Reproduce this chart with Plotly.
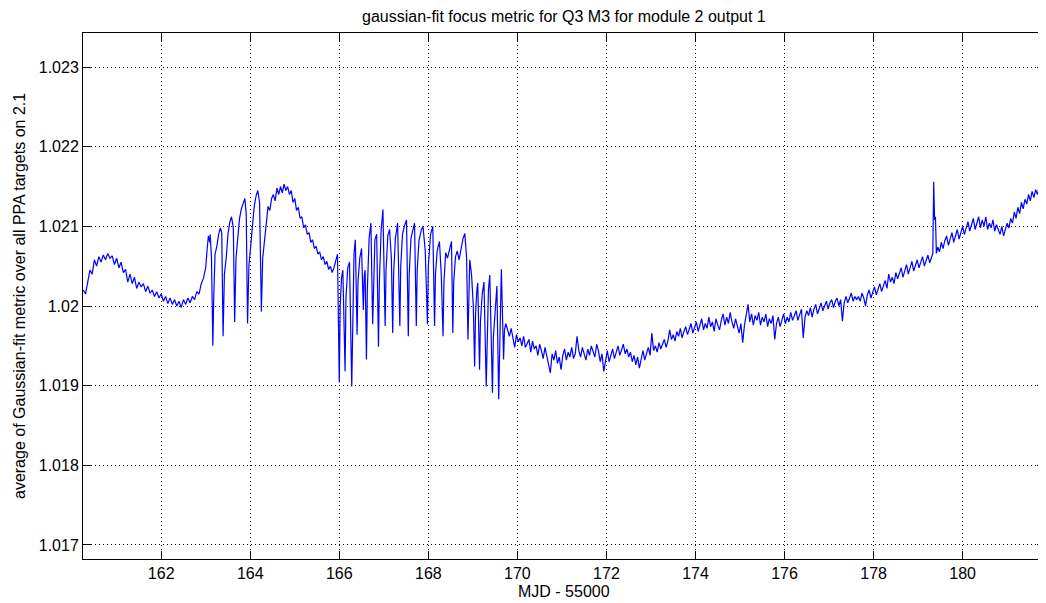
import plotly.graph_objects as go

# ---------------- data (MJD - 55000, metric) ----------------
mjd_a = [160.25, 160.30, 160.35, 160.40, 160.45, 160.50, 160.55, 160.60, 160.65, 160.70,
         160.75, 160.80, 160.85, 160.90, 160.95, 161.00, 161.05, 161.10, 161.15, 161.20,
         161.25, 161.30, 161.35, 161.40, 161.45, 161.50, 161.55, 161.60, 161.65, 161.70,
         161.75, 161.80, 161.85, 161.90, 161.95, 162.00, 162.05, 162.10, 162.15, 162.20,
         162.25, 162.30, 162.35, 162.40, 162.45, 162.50, 162.55, 162.60, 162.65, 162.70,
         162.75, 162.80, 162.85, 162.90, 162.95, 163.00, 163.03, 163.06, 163.09]
metric_a = [1.02020, 1.02015, 1.02030, 1.02045, 1.02040, 1.02058, 1.02050, 1.02062, 1.02055, 1.02064,
            1.02058, 1.02066, 1.02060, 1.02063, 1.02052, 1.02060, 1.02048, 1.02055, 1.02042, 1.02046,
            1.02030, 1.02040, 1.02028, 1.02036, 1.02022, 1.02030, 1.02024, 1.02028, 1.02018, 1.02025,
            1.02016, 1.02020, 1.02012, 1.02018, 1.02010, 1.02015, 1.02006, 1.02012, 1.02003, 1.02010,
            1.02002, 1.02008, 1.02000, 1.02006, 1.01998, 1.02008, 1.02002, 1.02010, 1.02004, 1.02012,
            1.02008, 1.02018, 1.02015, 1.02028, 1.02035, 1.02048, 1.02070, 1.02088, 1.02080]

mjd_b = [163.10, 163.13, 163.16, 163.18, 163.21, 163.25, 163.29, 163.33, 163.36, 163.39,
         163.42, 163.46, 163.50, 163.54, 163.58, 163.62, 163.65, 163.68, 163.72, 163.76,
         163.80, 163.84, 163.88, 163.91, 163.94, 163.97, 164.01, 164.05, 164.09, 164.13,
         164.17, 164.21, 164.25, 164.28, 164.32, 164.36, 164.40, 164.44, 164.48, 164.52,
         164.56, 164.60, 164.64, 164.68, 164.72, 164.76, 164.80, 164.84, 164.88, 164.92,
         164.96, 165.00, 165.04, 165.08, 165.12, 165.16, 165.20, 165.24, 165.28, 165.32,
         165.36, 165.40, 165.44, 165.48, 165.52, 165.56, 165.60, 165.64, 165.68, 165.72,
         165.76, 165.80, 165.84, 165.88, 165.92, 165.96]
metric_b = [1.02090, 1.02060, 1.01950, 1.02010, 1.02065, 1.02075, 1.02090, 1.02098, 1.02092, 1.01962,
            1.02040, 1.02060, 1.02090, 1.02105, 1.02112, 1.02098, 1.01980, 1.02060, 1.02085, 1.02110,
            1.02122, 1.02130, 1.02135, 1.02115, 1.01978, 1.02050, 1.02075, 1.02110, 1.02125, 1.02138,
            1.02145, 1.02130, 1.01993, 1.02060, 1.02085, 1.02110, 1.02125, 1.02120, 1.02135, 1.02140,
            1.02132, 1.02148, 1.02140, 1.02150, 1.02142, 1.02153, 1.02145, 1.02150, 1.02140, 1.02145,
            1.02130, 1.02135, 1.02120, 1.02124, 1.02110, 1.02112, 1.02098, 1.02102, 1.02090, 1.02092,
            1.02080, 1.02083, 1.02072, 1.02075, 1.02065, 1.02068, 1.02058, 1.02062, 1.02052, 1.02056,
            1.02046, 1.02050, 1.02042, 1.02048, 1.02055, 1.02065]

mjd_c = [166.00, 166.02, 166.05, 166.08, 166.13, 166.15, 166.19, 166.23, 166.28, 166.30,
         166.33, 166.36, 166.40, 166.42, 166.46, 166.50, 166.54, 166.56, 166.58, 166.61,
         166.63, 166.67, 166.71, 166.75, 166.77, 166.80, 166.84, 166.88, 166.90, 166.94,
         166.98, 167.03, 167.05, 167.09, 167.13, 167.17, 167.20, 167.22, 167.26, 167.31,
         167.36, 167.38, 167.42, 167.46, 167.51, 167.55, 167.57, 167.61, 167.65, 167.69,
         167.73, 167.75, 167.79, 167.84, 167.88, 167.93, 167.98, 168.00, 168.05, 168.10,
         168.14, 168.16, 168.20, 168.25, 168.29, 168.33, 168.35, 168.39, 168.43, 168.47,
         168.52, 168.55, 168.57, 168.61, 168.65, 168.69, 168.73, 168.78, 168.82, 168.86,
         168.89, 168.91, 168.93, 168.97, 169.01, 169.04, 169.06, 169.09, 169.11, 169.15,
         169.17, 169.21, 169.25, 169.30, 169.32, 169.35, 169.38, 169.44, 169.46, 169.50,
         169.54, 169.58, 169.60, 169.62, 169.64, 169.69, 169.71, 169.74]
metric_c = [1.01904, 1.02000, 1.02035, 1.02045, 1.01918, 1.02010, 1.02048, 1.02055, 1.01899, 1.01995,
            1.02065, 1.02083, 1.01964, 1.02030, 1.02060, 1.02072, 1.01995, 1.02037, 1.02045, 1.01933,
            1.02020, 1.02085, 1.02104, 1.01977, 1.02040, 1.02083, 1.02090, 1.01949, 1.02030, 1.02095,
            1.02121, 1.01975, 1.02045, 1.02088, 1.02096, 1.02060, 1.01966, 1.02040, 1.02085, 1.02104,
            1.01975, 1.02050, 1.02090, 1.02100, 1.02108, 1.01962, 1.02040, 1.02085, 1.02095, 1.02104,
            1.01975, 1.02045, 1.02082, 1.02095, 1.02100, 1.02070, 1.01977, 1.02050, 1.02090, 1.02100,
            1.01975, 1.02040, 1.02070, 1.02081, 1.02040, 1.01962, 1.02030, 1.02067, 1.02060, 1.02070,
            1.02081, 1.01966, 1.02030, 1.02062, 1.02069, 1.02058, 1.02070, 1.02085, 1.02091, 1.02060,
            1.01958, 1.02020, 1.02058, 1.02040, 1.02000, 1.01924, 1.01990, 1.02020, 1.02029, 1.01920,
            1.01980, 1.02015, 1.02030, 1.01899, 1.01970, 1.02020, 1.02039, 1.01891, 1.01960, 1.02000,
            1.02025, 1.01883, 1.01950, 1.02020, 1.02046, 1.01933, 1.01970, 1.01978]

mjd_d = [169.78, 169.82, 169.86, 169.90, 169.94, 169.98, 170.02, 170.06, 170.10, 170.14,
         170.18, 170.22, 170.26, 170.30, 170.34, 170.38, 170.42, 170.46, 170.50, 170.54,
         170.58, 170.62, 170.66, 170.70, 170.74, 170.78, 170.82, 170.86, 170.90, 170.94,
         170.98, 171.02, 171.06, 171.10, 171.14, 171.18, 171.22, 171.26, 171.30, 171.34,
         171.38, 171.42, 171.46, 171.50, 171.54, 171.58, 171.62, 171.66, 171.70, 171.74,
         171.78, 171.82, 171.86, 171.90, 171.94, 171.98, 172.02, 172.06, 172.10, 172.14,
         172.18, 172.22, 172.26, 172.30, 172.34, 172.38, 172.42, 172.46, 172.50, 172.54,
         172.58, 172.62, 172.66, 172.70, 172.74, 172.78, 172.82, 172.86, 172.90, 172.94,
         172.98, 173.02, 173.06, 173.10, 173.14, 173.18, 173.22, 173.26, 173.30, 173.34,
         173.38, 173.42, 173.46, 173.50, 173.54, 173.58, 173.62, 173.66, 173.70, 173.74,
         173.78, 173.82, 173.86, 173.90, 173.94, 173.98, 174.02, 174.06, 174.10, 174.14,
         174.18, 174.22, 174.26, 174.30, 174.34, 174.38, 174.42, 174.46, 174.50, 174.54,
         174.58, 174.62, 174.66, 174.70, 174.74, 174.78, 174.82, 174.86, 174.90, 174.94,
         174.98, 175.02, 175.06, 175.10, 175.14, 175.18, 175.22, 175.26, 175.30, 175.34,
         175.38, 175.42, 175.46, 175.50, 175.54, 175.58, 175.62, 175.66, 175.70, 175.74,
         175.78, 175.82, 175.86, 175.90, 175.94, 175.98, 176.02, 176.06, 176.10, 176.14,
         176.18, 176.22, 176.26, 176.30, 176.34, 176.38, 176.42, 176.46, 176.50, 176.54,
         176.58, 176.62, 176.66, 176.70, 176.74, 176.78, 176.82, 176.86, 176.90, 176.94,
         176.98, 177.02, 177.06, 177.10, 177.14, 177.18, 177.22, 177.26, 177.30, 177.34,
         177.38, 177.42, 177.46, 177.50, 177.54, 177.58, 177.62]
metric_d = [1.01970, 1.01962, 1.01972, 1.01958, 1.01948, 1.01964, 1.01955, 1.01960, 1.01950, 1.01962,
            1.01948, 1.01953, 1.01958, 1.01942, 1.01956, 1.01946, 1.01950, 1.01938, 1.01952, 1.01944,
            1.01934, 1.01948, 1.01938, 1.01930, 1.01916, 1.01940, 1.01932, 1.01944, 1.01928, 1.01936,
            1.01920, 1.01938, 1.01946, 1.01932, 1.01942, 1.01936, 1.01948, 1.01934, 1.01940, 1.01962,
            1.01944, 1.01936, 1.01948, 1.01940, 1.01932, 1.01946, 1.01938, 1.01950, 1.01942, 1.01936,
            1.01952, 1.01944, 1.01930, 1.01940, 1.01918, 1.01934, 1.01944, 1.01930, 1.01940, 1.01946,
            1.01934, 1.01942, 1.01950, 1.01938, 1.01944, 1.01952, 1.01940, 1.01946, 1.01936, 1.01942,
            1.01930, 1.01938, 1.01926, 1.01936, 1.01922, 1.01934, 1.01944, 1.01932, 1.01942, 1.01948,
            1.01938, 1.01966, 1.01944, 1.01950, 1.01942, 1.01954, 1.01946, 1.01952, 1.01958, 1.01948,
            1.01956, 1.01970, 1.01958, 1.01964, 1.01956, 1.01968, 1.01962, 1.01972, 1.01960, 1.01968,
            1.01974, 1.01964, 1.01972, 1.01978, 1.01966, 1.01974, 1.01980, 1.01968, 1.01976, 1.01984,
            1.01970, 1.01978, 1.01972, 1.01986, 1.01974, 1.01980, 1.01968, 1.01984, 1.01976, 1.01970,
            1.01982, 1.01990, 1.01976, 1.01986, 1.01978, 1.01992, 1.01980, 1.01972, 1.01984, 1.01976,
            1.01966, 1.01978, 1.01954, 1.01976, 1.01988, 1.02002, 1.01980, 1.01990, 1.01976, 1.01988,
            1.01982, 1.01992, 1.01976, 1.01986, 1.01980, 1.01990, 1.01974, 1.01984, 1.01978, 1.01988,
            1.01958, 1.01978, 1.01986, 1.01974, 1.01982, 1.01990, 1.01978, 1.01986, 1.01980, 1.01992,
            1.01982, 1.01988, 1.01994, 1.01982, 1.01990, 1.01996, 1.01960, 1.01986, 1.01994, 1.01988,
            1.01998, 1.01986, 1.01996, 1.02002, 1.01990, 1.01998, 1.02004, 1.01994, 1.02000, 1.02006,
            1.01996, 1.02004, 1.02008, 1.01998, 1.02006, 1.02010, 1.02000, 1.02008, 1.01981, 1.02004,
            1.02012, 1.02004, 1.02010, 1.02016, 1.02006, 1.02012, 1.02008]

mjd_e = [177.66, 177.70, 177.74, 177.78, 177.82, 177.86, 177.90, 177.94, 177.98, 178.02,
         178.06, 178.10, 178.14, 178.18, 178.22, 178.26, 178.30, 178.34, 178.38, 178.42,
         178.46, 178.50, 178.54, 178.58, 178.62, 178.66, 178.70, 178.74, 178.78, 178.82,
         178.86, 178.90, 178.94, 178.98, 179.02, 179.06, 179.10, 179.14, 179.18, 179.22,
         179.26, 179.30, 179.33, 179.35, 179.37, 179.39, 179.41, 179.44, 179.48, 179.52,
         179.56, 179.60, 179.64, 179.68, 179.72, 179.76, 179.80, 179.84, 179.88, 179.92,
         179.96, 180.00, 180.04, 180.08, 180.12, 180.16, 180.20, 180.24, 180.28, 180.32,
         180.36, 180.40, 180.44, 180.48, 180.52, 180.56, 180.60, 180.64, 180.68, 180.72,
         180.76, 180.80, 180.84, 180.88, 180.92, 180.96, 181.00, 181.04, 181.08, 181.12,
         181.16, 181.20, 181.24, 181.28, 181.32, 181.36, 181.40, 181.44, 181.48, 181.52,
         181.56, 181.60, 181.64, 181.68, 181.72, 181.76, 181.80, 181.84, 181.86]
metric_e = [1.02012, 1.02006, 1.02016, 1.02010, 1.02000, 1.02014, 1.02020, 1.02010, 1.02018, 1.02024,
            1.02014, 1.02022, 1.02028, 1.02018, 1.02026, 1.02032, 1.02022, 1.02040, 1.02030, 1.02036,
            1.02028, 1.02042, 1.02034, 1.02040, 1.02048, 1.02036, 1.02044, 1.02052, 1.02040, 1.02050,
            1.02056, 1.02044, 1.02052, 1.02058, 1.02048, 1.02056, 1.02062, 1.02050, 1.02058, 1.02064,
            1.02054, 1.02062, 1.02066, 1.02156, 1.02108, 1.02112, 1.02066, 1.02074, 1.02068, 1.02080,
            1.02072, 1.02082, 1.02088, 1.02076, 1.02086, 1.02092, 1.02080, 1.02090, 1.02096, 1.02084,
            1.02094, 1.02100, 1.02090, 1.02098, 1.02106, 1.02094, 1.02102, 1.02110, 1.02096, 1.02106,
            1.02112, 1.02098, 1.02108, 1.02100, 1.02112, 1.02096, 1.02104, 1.02098, 1.02108, 1.02094,
            1.02102, 1.02096, 1.02090, 1.02100, 1.02088, 1.02096, 1.02104, 1.02098, 1.02110, 1.02104,
            1.02118, 1.02110, 1.02124, 1.02116, 1.02130, 1.02122, 1.02134, 1.02128, 1.02140, 1.02132,
            1.02144, 1.02136, 1.02146, 1.02140, 1.02150, 1.02144, 1.02154, 1.02148, 1.02152]

x_ticks = [162, 164, 166, 168, 170, 172, 174, 176, 178, 180]
y_ticks = [1.017, 1.018, 1.019, 1.020, 1.021, 1.022, 1.023]
y_tick_text = ["1.017", "1.018", "1.019", "1.02", "1.021", "1.022", "1.023"]

title_text = "gaussian-fit focus metric for Q3 M3 for module 2 output 1"
x_title = "MJD - 55000"
y_title = "average of Gaussian-fit metric over all PPA targets on 2.1"

mjd = mjd_a + mjd_b + mjd_c + mjd_d + mjd_e
metric = metric_a + metric_b + metric_c + metric_d + metric_e

FONT = "Liberation Sans, Arial, sans-serif"
FS = 16

fig = go.Figure()
fig.add_trace(go.Scatter(x=mjd, y=metric, mode="lines",
                         line=dict(color="#0000ff", width=1.2), showlegend=False,
                         hoverinfo="skip"))

axis_common = dict(
    showline=True, linecolor="black", linewidth=1, mirror="ticks",
    ticks="inside", ticklen=8, tickcolor="black", tickwidth=1,
    showgrid=True, gridcolor="black", gridwidth=1, griddash="1px,3px",
    zeroline=False, automargin=False,
    tickfont=dict(family=FONT, size=FS, color="black"),
)

fig.update_xaxes(range=[160.244, 181.85], tickvals=x_ticks,
                 ticktext=[str(v) for v in x_ticks], ticklabelstandoff=0,
                 **axis_common)
fig.update_yaxes(range=[1.016824, 1.023427], tickvals=y_ticks,
                 ticktext=y_tick_text, **axis_common)

# the page body adds an 8px offset; the figure is sized so it fits the window
fig.update_layout(
    width=1038, height=595, autosize=False,
    margin=dict(l=75, r=1, t=25, b=44, pad=0),
    paper_bgcolor="white", plot_bgcolor="white",
    font=dict(family=FONT, size=FS, color="black"),
    annotations=[
        dict(text=title_text, xref="paper", yref="paper", x=0.5, y=1,
             yshift=17, xanchor="center", yanchor="middle", showarrow=False,
             font=dict(family=FONT, size=FS, color="black")),
        dict(text=x_title, xref="paper", yref="paper", x=0.5, y=0,
             yshift=-32, xanchor="center", yanchor="middle", showarrow=False,
             font=dict(family=FONT, size=FS, color="black")),
        dict(text=y_title, xref="paper", yref="paper", x=0, y=0.5,
             xshift=-64, xanchor="center", yanchor="middle", showarrow=False,
             textangle=-90, font=dict(family=FONT, size=FS, color="black")),
    ],
)

fig.write_html("out.html")
